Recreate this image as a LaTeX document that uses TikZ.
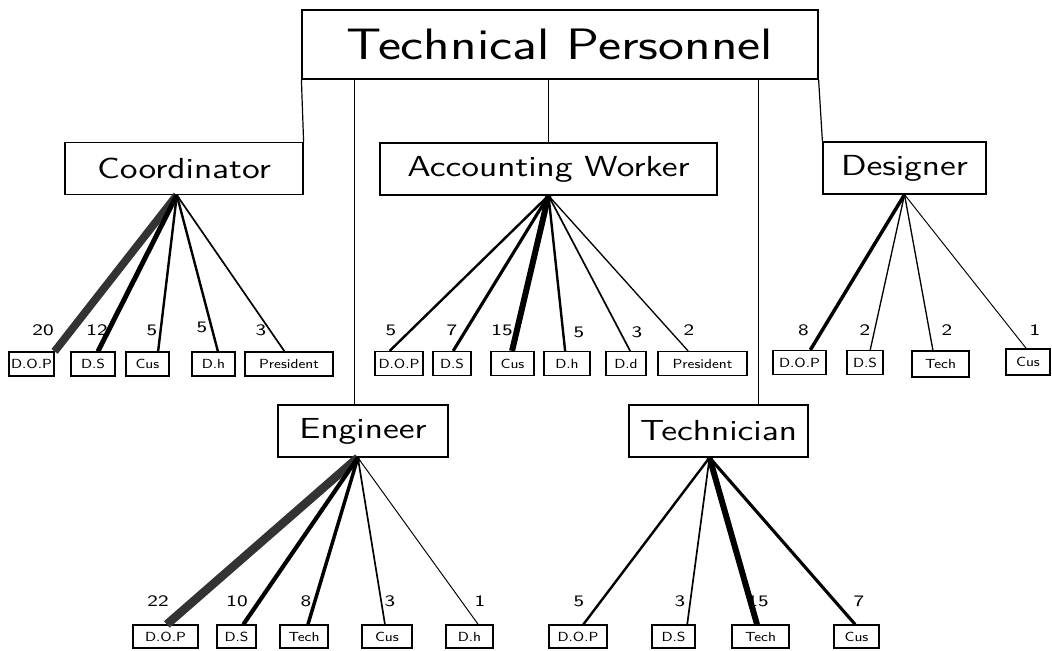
\documentclass[tikz,border=0pt]{standalone}
\usepackage{fontspec}
\usepackage{tikz}
\usetikzlibrary{calc}

\newcommand{\widetext}[1]{\scalebox{1.25}[1]{#1}}
\newcommand{\leaftext}[1]{\scalebox{1.1}[1]{#1}}

\tikzset{
	topbox/.style={draw, line width=0.6pt, minimum width=258pt, minimum height=34.5pt, font=\sffamily\fontsize{22}{24}\selectfont},
	rolebox/.style={draw, line width=0.6pt, minimum height=26pt, font=\sffamily\fontsize{14.5}{16}\selectfont},
	leafbox/.style={draw, line width=0.6pt, minimum height=12pt, inner sep=0pt, font=\sffamily\fontsize{6.6}{8}\selectfont},
	tally/.style={inner sep=0pt, font=\sffamily\fontsize{8}{9}\selectfont},
	fan/.style={line width=0.3pt+0.18pt*#1},
}

\begin{document}
\begin{tikzpicture}[x=0.5pt, y=-0.5pt]
		\useasboundingbox (0,0) rectangle (1052,650);

		\begin{scope}
			\node [topbox] (tp) at (560,44.5) {\widetext{Technical Personnel}};
			\node [rolebox, minimum width=119pt] (coord) at (184,168.5) {\widetext{Coordinator}};
			\node [rolebox, minimum width=168.5pt] (acc) at (548.5,169) {\widetext{Accounting Worker}};
			\node [rolebox, minimum width=81.5pt] (des) at (904.5,168) {\widetext{Designer}};
			\node [rolebox, minimum width=85pt] (eng) at (363,431) {\widetext{Engineer}};
			\node [rolebox, minimum width=89.5pt] (tec) at (718.5,431) {\widetext{Technician}};
		\end{scope}

		\begin{scope}
			\coordinate (eng-top) at ($ (eng.north west)!0.45!(eng.north east) $);
			\coordinate (tec-top) at ($ (tec.north west)!0.72!(tec.north east) $);
			\draw [line width=0.6pt] (tp.south west) -- (coord.north east);
			\draw [line width=0.6pt] (eng-top) -- (eng-top |- tp.south);
			\draw [line width=0.6pt] (acc.north) -- (acc.north |- tp.south);
			\draw [line width=0.6pt] (tec-top) -- (tec-top |- tp.south);
			\draw [line width=0.6pt] (tp.south east) -- (des.north west);
		\end{scope}

		% coordinator
		\begin{scope}
			\coordinate (co) at ($ (coord.south west)!0.47!(coord.south east) $);
			\node [leafbox, minimum width=22.5pt] (c1) at (31.5,364) {\leaftext{D.O.P}};
			\node [leafbox, minimum width=22pt] (c2) at (93,364) {\leaftext{D.S}};
			\node [leafbox, minimum width=21.5pt] (c3) at (147.5,364) {\leaftext{Cus}};
			\node [leafbox, minimum width=21.5pt] (c4) at (213.5,364) {\leaftext{D.h}};
			\node [leafbox, minimum width=44pt] (c5) at (289,364) {\leaftext{President}};
			\draw [fan=20, black!80] (co) -- (c1.north east);
			\draw [fan=12] (co) -- ($ (c2.north west)!0.61!(c2.north east) $);
			\draw [fan=5] (co) -- ($ (c3.north west)!0.74!(c3.north east) $);
			\draw [fan=5] (co) -- ($ (c4.north west)!0.6!(c4.north east) $);
			\draw [fan=3] (co) -- ($ (c5.north west)!0.45!(c5.north east) $);
			\node [tally] (c1n) at (43,330) {\widetext{20}};
			\node [tally] (c2n) at (97,330) {\widetext{12}};
			\node [tally] (c3n) at (152,330) {\widetext{5}};
			\node [tally] (c4n) at (202,327) {\widetext{5}};
			\node [tally] (c5n) at (261,330) {\widetext{3}};
		\end{scope}

		% accounting worker
		\begin{scope}
			\coordinate (ac) at (acc.south);
			\node [leafbox, minimum width=24pt] (a1) at (399,363.5) {\leaftext{D.O.P}};
			\node [leafbox, minimum width=19pt] (a2) at (452,363.5) {\leaftext{D.S}};
			\node [leafbox, minimum width=21.5pt] (a3) at (512.5,363.5) {\leaftext{Cus}};
			\node [leafbox, minimum width=23pt] (a4) at (567,363.5) {\leaftext{D.h}};
			\node [leafbox, minimum width=20pt] (a5) at (626,363.5) {\leaftext{D.d}};
			\node [leafbox, minimum width=44.5pt] (a6) at (702.5,363.5) {\leaftext{President}};
			\draw [fan=5] (ac) -- ($ (a1.north west)!0.31!(a1.north east) $);
			\draw [fan=7] (ac) -- ($ (a2.north west)!0.53!(a2.north east) $);
			\draw [fan=15] (ac) -- ($ (a3.north west)!0.49!(a3.north east) $);
			\draw [fan=5] (ac) -- ($ (a4.north west)!0.46!(a4.north east) $);
			\draw [fan=3] (ac) -- ($ (a5.north west)!0.6!(a5.north east) $);
			\draw [fan=2] (ac) -- ($ (a6.north west)!0.34!(a6.north east) $);
			\node [tally] (a1n) at (391,330) {\widetext{5}};
			\node [tally] (a2n) at (452,330) {\widetext{7}};
			\node [tally] (a3n) at (502,330) {\widetext{15}};
			\node [tally] (a4n) at (579,332) {\widetext{5}};
			\node [tally] (a5n) at (637,332) {\widetext{3}};
			\node [tally] (a6n) at (689,330) {\widetext{2}};
		\end{scope}

		% designer
		\begin{scope}
			\coordinate (de) at (des.south);
			\node [leafbox, minimum width=26.5pt] (d1) at (799.5,362.5) {\leaftext{D.O.P}};
			\node [leafbox, minimum width=18pt] (d2) at (865,362.5) {\leaftext{D.S}};
			\node [leafbox, minimum width=28.5pt, minimum height=13pt] (d3) at (940.5,364) {\leaftext{Tech}};
			\node [leafbox, minimum width=22pt, minimum height=13pt] (d4) at (1028,362) {\leaftext{Cus}};
			\draw [fan=8] (de) -- ($ (d1.north west)!0.7!(d1.north east) $);
			\draw [fan=2] (de) -- ($ (d2.north west)!0.64!(d2.north east) $);
			\draw [fan=2] (de) -- ($ (d3.north west)!0.37!(d3.north east) $);
			\draw [fan=1] (de) -- ($ (d4.north west)!0.46!(d4.north east) $);
			\node [tally] (d1n) at (803.5,330) {\widetext{8}};
			\node [tally] (d2n) at (865,330) {\widetext{2}};
			\node [tally] (d3n) at (947,330) {\widetext{2}};
			\node [tally] (d4n) at (1035,330) {\widetext{1}};
		\end{scope}

		% engineer
		\begin{scope}
			\coordinate (en) at ($ (eng.south west)!0.47!(eng.south east) $);
			\node [leafbox, minimum width=32.5pt, minimum height=11.5pt] (e1) at (165.5,636.5) {\leaftext{D.O.P}};
			\node [leafbox, minimum width=19.5pt, minimum height=11.5pt] (e2) at (236.5,636.5) {\leaftext{D.S}};
			\node [leafbox, minimum width=24pt, minimum height=11.5pt] (e3) at (304,636.5) {\leaftext{Tech}};
			\node [leafbox, minimum width=25pt, minimum height=11.5pt] (e4) at (387,636.5) {\leaftext{Cus}};
			\node [leafbox, minimum width=23.5pt, minimum height=11.5pt] (e5) at (469.5,636.5) {\leaftext{D.h}};
			\draw [fan=22, black!80] (en) -- ($ (e1.north west)!0.52!(e1.north east) $);
			\draw [fan=10] (en) -- ($ (e2.north west)!0.67!(e2.north east) $);
			\draw [fan=8] (en) -- ($ (e3.north west)!0.58!(e3.north east) $);
			\draw [fan=3] (en) -- ($ (e4.north west)!0.46!(e4.north east) $);
			\draw [fan=1] (en) -- ($ (e5.north west)!0.68!(e5.north east) $);
			\node [tally] (e1n) at (158,601) {\widetext{22}};
			\node [tally] (e2n) at (237,601) {\widetext{10}};
			\node [tally] (e3n) at (306,601) {\widetext{8}};
			\node [tally] (e4n) at (390,601) {\widetext{3}};
			\node [tally] (e5n) at (480,601) {\widetext{1}};
		\end{scope}

		% technician
		\begin{scope}
			\coordinate (te) at ($ (tec.south west)!0.45!(tec.south east) $);
			\node [leafbox, minimum width=29pt, minimum height=11.5pt] (t1) at (578,636.5) {\leaftext{D.O.P}};
			\node [leafbox, minimum width=21.5pt, minimum height=11.5pt] (t2) at (673.5,636.5) {\leaftext{D.S}};
			\node [leafbox, minimum width=28.5pt, minimum height=11.5pt] (t3) at (760.5,636.5) {\leaftext{Tech}};
			\node [leafbox, minimum width=22.5pt, minimum height=11.5pt] (t4) at (856.5,636.5) {\leaftext{Cus}};
			\draw [fan=5] (te) -- ($ (t1.north west)!0.59!(t1.north east) $);
			\draw [fan=3] (te) -- ($ (t2.north west)!0.81!(t2.north east) $);
			\draw [fan=15] (te) -- ($ (t3.north west)!0.44!(t3.north east) $);
			\draw [fan=7] (te) -- ($ (t4.north west)!0.47!(t4.north east) $);
			\node [tally] (t1n) at (579,601) {\widetext{5}};
			\node [tally] (t2n) at (680,601) {\widetext{3}};
			\node [tally] (t3n) at (758,601) {\widetext{15}};
			\node [tally] (t4n) at (859,601) {\widetext{7}};
		\end{scope}
	\end{tikzpicture}
\end{document}
